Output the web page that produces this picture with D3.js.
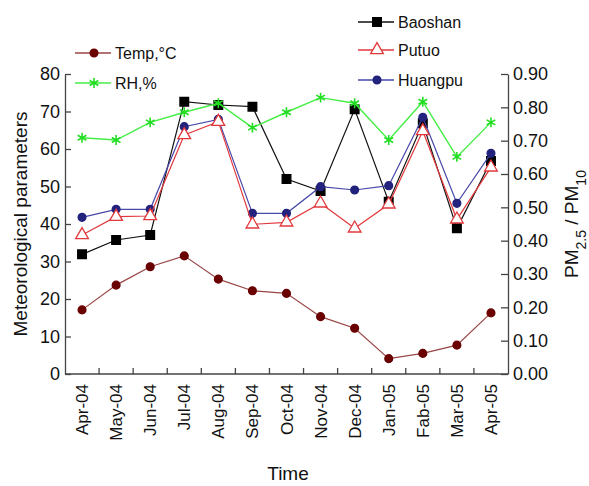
<!DOCTYPE html>
<html>
<head>
<meta charset="utf-8">
<script src="https://cdn.jsdelivr.net/npm/d3@7"></script>
<style>
  body { margin: 0; background: #fff; }
  svg text { font-family: "Liberation Sans", Arial, sans-serif; fill: #111; }
</style>
</head>
<body>
<div id="chart"></div>
<script>
const months = ['Apr-04','May-04','Jun-04','Jul-04','Aug-04','Sep-04','Oct-04','Nov-04','Dec-04','Jan-05','Fab-05','Mar-05','Apr-05'];

// left axis series
const temp = [17.1, 23.7, 28.6, 31.5, 25.3, 22.2, 21.5, 15.3, 12.2, 4.1, 5.5, 7.7, 16.3];
const rh = [63.0, 62.4, 67.1, 69.8, 72.2, 65.7, 69.8, 73.7, 72.2, 62.4, 72.6, 57.9, 67.1];

// right axis series (PM2.5 / PM10)
const baoshan = [0.359, 0.402, 0.417, 0.817, 0.807, 0.802, 0.585, 0.549, 0.794, 0.517, 0.752, 0.437, 0.639];
const putuo = [0.417, 0.472, 0.474, 0.717, 0.757, 0.449, 0.455, 0.512, 0.437, 0.509, 0.729, 0.464, 0.620];
const huangpu = [0.470, 0.494, 0.494, 0.742, 0.764, 0.482, 0.482, 0.562, 0.552, 0.565, 0.770, 0.512, 0.662];

const leftTicks = [0, 10, 20, 30, 40, 50, 60, 70, 80];
const rightTicks = [0, 0.1, 0.2, 0.3, 0.4, 0.5, 0.6, 0.7, 0.8, 0.9];

const W = 589, H = 486;
const plot = {left: 65, right: 508, top: 74, bottom: 374};

const svg = d3.select('#chart').append('svg')
  .attr('width', W)
  .attr('height', H);

const x = d3.scaleBand().domain(months).range([plot.left, plot.right]);
const yL = d3.scaleLinear().domain([0, 80]).range([plot.bottom, plot.top]);
const yR = d3.scaleLinear().domain([0, 0.9]).range([plot.bottom, plot.top]);
const cx = i => x(months[i]) + x.bandwidth() / 2;

// axes
const axL = svg.append('g')
  .attr('transform', 'translate(' + plot.left + ',0)')
  .call(d3.axisLeft(yL).tickValues(leftTicks).tickSize(-6).tickSizeOuter(0).tickPadding(5).tickFormat(d3.format('d')));
const axR = svg.append('g')
  .attr('transform', 'translate(' + plot.right + ',0)')
  .call(d3.axisRight(yR).tickValues(rightTicks).tickSize(-7).tickSizeOuter(0).tickPadding(5).tickFormat(d3.format('.2f')));
[axL, axR].forEach(a => {
  a.selectAll('path,line').attr('stroke', '#444').attr('stroke-width', 1.3);
  a.selectAll('text').style('font-size', '18px').attr('fill', '#111');
});

// bottom axis: baseline, boundary ticks, rotated labels
const bx = svg.append('g');
bx.append('line')
  .attr('x1', plot.left).attr('x2', plot.right)
  .attr('y1', plot.bottom).attr('y2', plot.bottom)
  .attr('stroke', '#444').attr('stroke-width', 1.3);
bx.selectAll('.tk').data(months.slice(1)).enter().append('line')
  .attr('x1', d => x(d)).attr('x2', d => x(d))
  .attr('y1', plot.bottom).attr('y2', plot.bottom - 6)
  .attr('stroke', '#444').attr('stroke-width', 1.3);
bx.selectAll('.lb').data(months).enter().append('text')
  .attr('transform', (d, i) => 'translate(' + (cx(i) + 6) + ',' + (plot.bottom + 10) + ') rotate(-90)')
  .attr('text-anchor', 'end')
  .style('font-size', '17px')
  .text(d => d);

// axis titles
svg.append('text')
  .attr('x', 288).attr('y', 480)
  .attr('text-anchor', 'middle')
  .style('font-size', '19px')
  .text('Time');
svg.append('text')
  .attr('transform', 'translate(27,224) rotate(-90)')
  .attr('text-anchor', 'middle')
  .style('font-size', '19px')
  .text('Meteorological parameters');
const rt = svg.append('text')
  .attr('transform', 'translate(578,224) rotate(-90)')
  .attr('text-anchor', 'middle')
  .style('font-size', '19px');
rt.append('tspan').text('PM');
rt.append('tspan').attr('baseline-shift', 'sub').style('font-size', '14px').text('2.5');
rt.append('tspan').text(' / PM');
rt.append('tspan').attr('baseline-shift', 'sub').style('font-size', '14px').text('10');

// series definitions
const series = [
  {name: 'Baoshan', data: baoshan, y: yR, line: '#111', mark: '#000', sym: d3.symbolSquare, size: 75, fill: '#000', sw: 1.2},
  {name: 'Huangpu', data: huangpu, y: yR, line: '#4848a8', mark: '#23237e', sym: d3.symbolCircle, size: 48, fill: '#23237e', sw: 1.2},
  {name: 'Putuo', data: putuo, y: yR, line: '#e2383c', mark: '#e2383c', sym: d3.symbolTriangle, size: 70, fill: '#fff', sw: 1.2},
  {name: 'Temp,°C', data: temp, y: yL, line: '#9a4545', mark: '#6a0000', sym: d3.symbolCircle, size: 48, fill: '#6a0000', sw: 1.2},
  {name: 'RH,%', data: rh, y: yL, line: '#44ee44', mark: '#22dd22', sym: d3.symbolAsterisk, size: 70, fill: 'none', sw: 1.4}
];

series.forEach(s => {
  const g = svg.append('g');
  g.append('path')
    .datum(s.data)
    .attr('fill', 'none')
    .attr('stroke', s.line)
    .attr('stroke-width', s.sw)
    .attr('d', d3.line().x((d, i) => cx(i)).y(d => s.y(d)));
  g.selectAll('path.m').data(s.data).enter().append('path')
    .attr('class', 'm')
    .attr('transform', (d, i) => 'translate(' + cx(i) + ',' + s.y(d) + ')')
    .attr('d', d3.symbol().type(s.sym).size(s.size))
    .attr('fill', s.fill)
    .attr('stroke', s.mark)
    .attr('stroke-width', s.sym === d3.symbolAsterisk ? 1.6 : 1.3);
});

// legends
const legendPos = {
  'Temp,°C': [75, 53], 'RH,%': [75, 83],
  'Baoshan': [358, 22], 'Putuo': [358, 50], 'Huangpu': [358, 80]
};
series.forEach(s => {
  const p = legendPos[s.name];
  const g = svg.append('g').attr('transform', 'translate(' + p[0] + ',' + p[1] + ')');
  g.append('line').attr('x1', 0).attr('x2', 36).attr('stroke', s.line).attr('stroke-width', 1.4);
  g.append('path')
    .attr('transform', 'translate(19,0)')
    .attr('d', d3.symbol().type(s.sym).size(s.size))
    .attr('fill', s.fill)
    .attr('stroke', s.mark)
    .attr('stroke-width', s.sym === d3.symbolAsterisk ? 1.6 : 1.3);
  g.append('text')
    .attr('x', 40).attr('dy', '0.35em')
    .style('font-size', '16px')
    .text(s.name);
});
</script>
</body>
</html>
